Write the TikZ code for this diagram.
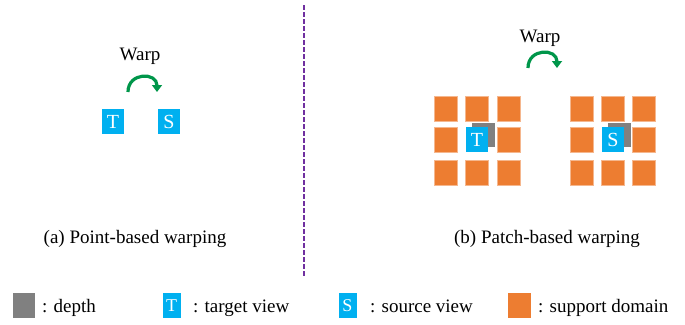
\documentclass[tikz,border=0pt]{standalone}
\usepackage{fontspec}
\setmainfont{Liberation Serif}
\usetikzlibrary{arrows.meta}
\definecolor{supportorange}{HTML}{ED7D31}
\definecolor{viewblue}{HTML}{00B0F0}
\definecolor{depthgray}{HTML}{808080}
\definecolor{splitpurple}{HTML}{7030A0}
\definecolor{warpgreen}{HTML}{00964A}

\begin{document}
\begin{tikzpicture}[x=1pt,y=-1pt,
  every node/.style={font=\fontsize{19}{23}\selectfont, inner sep=0pt, outer sep=0pt},
  cell/.style={minimum width=23pt, minimum height=25pt},
  support/.style={cell, fill=supportorange, draw=supportorange!55!white, line width=0.5pt},
  view/.style={cell, fill=viewblue, text=white, minimum width=22pt, font=\fontsize{20}{24}\selectfont},
  keyview/.style={view, minimum width=18pt, font=\fontsize{18}{22}\selectfont},
  depthbox/.style={cell, fill=depthgray},
  warparrow/.style={draw=warpgreen, line width=3.2pt, -{Triangle[length=7pt,width=10pt]}},
  caption/.style={anchor=base},
  keytext/.style={anchor=base west},
  divider/.style={draw=splitpurple, line width=2.5pt, dash pattern=on 5pt off 2pt},
]
\useasboundingbox (0,0) rectangle (685,324);

% divider between the two panels
\coordinate (divtop) at (304,5);
\coordinate (divbot) at (304,277);
\draw[divider] (divtop) -- (divbot);

% (a) point-based warping
\node[caption] (warpa) at (140,60) {Warp};
\coordinate (wa1) at (128,92);
\coordinate (wa2) at (157,92);
\draw[warparrow] (wa1) .. controls +(0,-20) and +(0,-20) .. (wa2);
\node[view] (ta) at (113,121.5) {T};
\node[view] (sa) at (169,121.5) {S};
\node[caption] (capa) at (135,243) {(a) Point-based warping};

% (b) patch-based warping
\node[caption] (warpb) at (540,42) {Warp};
\coordinate (wb1) at (528,68);
\coordinate (wb2) at (557,68);
\draw[warparrow] (wb1) .. controls +(0,-20) and +(0,-20) .. (wb2);

% support domains around the target and the source pixel
\foreach \side/\xa/\xb/\xc in {T/445.5/477/508.5, S/581.5/612.5/644} {
  \foreach \c/\x in {1/\xa, 2/\xb, 3/\xc} {
    \foreach \r/\y in {1/108.5, 2/139.5, 3/172.5} {
      \ifnum\c\r=22\else
        \node[support] (\side-\c-\r) at (\x,\y) {};
      \fi
    }
  }
}
\node[depthbox, minimum height=24pt] (dt) at (483.5,135) {};
\node[view] (tb) at (477,139.5) {T};
\node[depthbox, minimum height=24pt] (ds) at (619,134.5) {};
\node[view] (sb) at (613,139.5) {S};
\node[caption] (capb) at (547,243) {(b) Patch-based warping};

% legend
\node[depthbox, minimum width=22pt] (kd) at (24,305.5) {};
\node[keytext] (kdt) at (42,312) {: depth};
\node[keyview] (kt) at (171.5,305.5) {T};
\node[keytext] (ktt) at (193,312) {: target view};
\node[keyview] (ks) at (347.5,305.5) {S};
\node[keytext] (kst) at (370,312) {: source view};
\node[support, draw=none] (ko) at (519.5,305.5) {};
\node[keytext] (kot) at (538,312) {: support domain};
\end{tikzpicture}
\end{document}
